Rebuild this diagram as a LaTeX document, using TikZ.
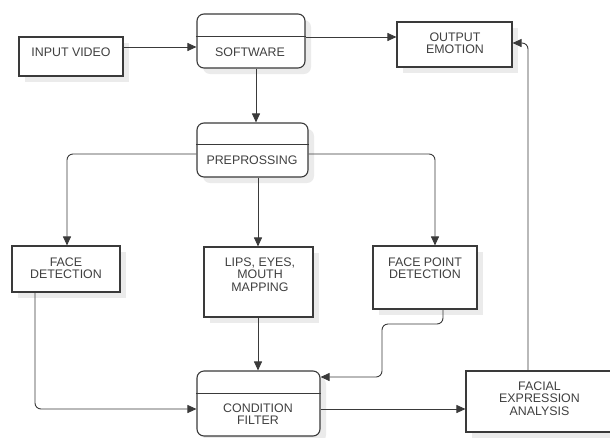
\documentclass[tikz,border=0pt]{standalone}
\usepackage{fontspec}
\setmainfont{Liberation Sans}
\usetikzlibrary{arrows.meta,shadows}
\definecolor{linegray}{HTML}{3A3A3A}
\definecolor{textgray}{HTML}{404040}
\definecolor{shadowgray}{HTML}{EBEBEB}
\tikzset{
  box/.style={draw=linegray, line width=1.1pt, fill=white, inner sep=0pt,
    general shadow={fill=shadowgray, shadow xshift=6pt, shadow yshift=-6pt}},
  roundbox/.style={box, rounded corners=7pt},
  label text/.style={text=textgray, align=center, inner sep=0pt,
    font=\fontsize{12.4}{12.3}\selectfont},
  conn/.style={draw=linegray, line width=0.9pt, rounded corners=6pt},
  arr/.style={conn, -{Triangle[length=9pt,width=8pt]}},
}
\newcommand{\boxat}[6]{%
  \node[#1, minimum width=#4pt-#2pt, minimum height=#5pt-#3pt]
    (#6) at ({(#2+#4)/2},{(#3+#5)/2}) {};}
\begin{document}
\begin{tikzpicture}[x=1pt,y=-1pt]
\useasboundingbox (0,0) rectangle (610,437);

% boxes
\boxat{box}{19}{37}{123}{76}{input}
\boxat{roundbox}{197}{14}{305}{68}{software}
\boxat{box}{397}{22}{512}{67}{output}
\boxat{roundbox}{197}{123}{308}{177}{prep}
\boxat{box}{12}{246}{120}{292}{face}
\boxat{box}{204}{247}{313}{317}{lips}
\boxat{box}{373}{246}{477}{309}{fpd}
\boxat{roundbox}{197}{371}{320}{436}{cond}
\boxat{box}{466}{371}{616}{432}{facial}

% header dividers of the rounded boxes
\draw[linegray, line width=1pt] (software.west |- 0,36) -- (software.east |- 0,36);
\draw[linegray, line width=1pt] (prep.west |- 0,144) -- (prep.east |- 0,144);
\draw[linegray, line width=1pt] (cond.west |- 0,393) -- (cond.east |- 0,393);

% labels
\node[label text] (input-t) at (71,52.5) {INPUT VIDEO};
\node[label text] (software-t) at (250,52.5) {SOFTWARE};
\node[label text] (output-t) at (455,43.5) {OUTPUT\\EMOTION};
\node[label text] (prep-t) at (252,160) {PREPROSSING};
\node[label text] (face-t) at (66,268.5) {FACE\\DETECTION};
\node[label text] (lips-t) at (260,274.5) {LIPS, EYES,\\MOUTH\\MAPPING};
\node[label text] (fpd-t) at (425,268) {FACE POINT\\DETECTION};
\node[label text] (cond-t) at (258,414.5) {CONDITION\\FILTER};
\node[label text] (facial-t) at (539.5,398.5) {FACIAL\\EXPRESSION\\ANALYSIS};

% connectors
\draw[arr] (input.east |- 0,47) -- (software.west |- 0,47);
\draw[arr] (software.east |- 0,37) -- (output.west |- 0,37);
\draw[arr] (software.south -| 256,0) -- (prep.north -| 256,0);
\draw[arr] (prep.west |- 0,154) -| (face.north -| 67,0);
\draw[arr] (prep.east |- 0,154) -| (fpd.north -| 435,0);
\draw[arr] (prep.south -| 258,0) -- (lips.north -| 258,0);
\draw[arr] (face.south -| 35,0) |- (cond.west |- 0,409);
\draw[arr] (lips.south -| 258,0) -- (cond.north -| 258,0);
\draw[arr] (fpd.south -| 443,0) -- (443,324) -- (382,324) -- (382,377) -- (cond.east |- 0,377);
\draw[arr] (cond.east |- 0,409) -- (facial.west |- 0,409);
\draw[arr] (facial.north -| 528,0) |- (output.east |- 0,43);
\end{tikzpicture}
\end{document}
